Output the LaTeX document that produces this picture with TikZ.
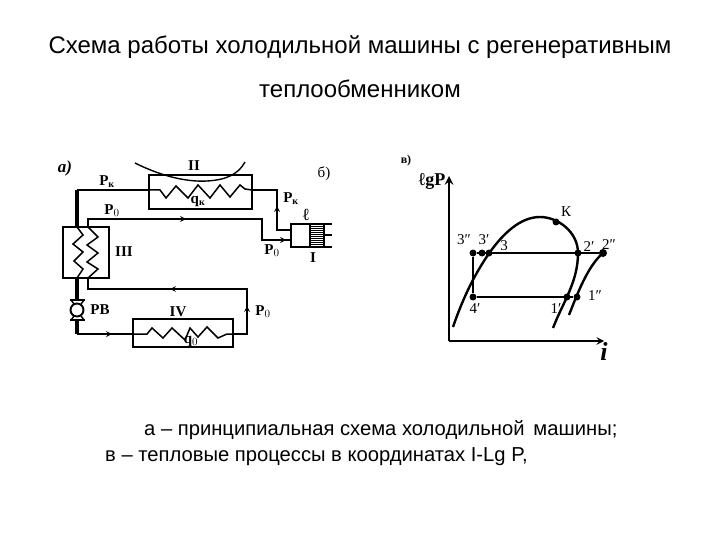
\documentclass[tikz,border=0pt]{standalone}
\usepackage{fontspec}
\setmainfont{Liberation Serif}
\newfontfamily\capfont{Liberation Sans}
\usepackage{tikz}
\newcommand{\subk}{$_{\mbox{\fontsize{10}{11}\selectfont к}}$}

\begin{document}
\begin{tikzpicture}[
    x=1pt, y=-1pt,
    box/.style={rectangle, draw, line width=1.9pt, inner sep=0pt},
    pipe/.style={line width=2.2pt, line join=miter},
    thickpipe/.style={line width=3.2pt, line join=miter},
    thinpipe/.style={line width=1.6pt},
    coil/.style={line width=1.5pt},
    curve/.style={line width=2.4pt},
    axis/.style={line width=2.8pt},
    dot/.style={circle, fill=black, inner sep=0pt, minimum size=7pt},
    captext/.style={font=\capfont\fontsize{24}{26}\selectfont, inner sep=0pt},
    notetext/.style={font=\capfont\fontsize{20.2}{24}\selectfont, inner sep=0pt, anchor=west},
    lab/.style={font=\fontsize{15}{16}\selectfont\bfseries, inner sep=0pt},
    ptlab/.style={font=\fontsize{15}{16}\selectfont, inner sep=0pt},
]
\useasboundingbox (0,0) rectangle (720,540);

% captions
\node[captext] (title1) at (360,47) {Схема работы холодильной машины с регенеративным};
\node[captext] (title2) at (360,89) {теплообменником};
\node[notetext] (note1) at (144,430) {а – принципиальная схема холодильной\, машины;};
\node[notetext] (note2) at (105,457) {в – тепловые процессы в координатах I-Lg P,};

% apparatus
\node[box, minimum width=103pt, minimum height=34pt] (cond) at (200.5,192) {};
\node[box, minimum width=46pt, minimum height=51pt] (regen) at (86,252.5) {};
\node[box, minimum width=100pt, minimum height=28pt] (evap) at (183,333) {};
\node[box, minimum width=19pt, minimum height=23pt] (comp) at (300.5,235.5) {};

% piston
\coordinate (ca) at (310,224);
\coordinate (cb) at (310,247);
\draw[thinpipe] (ca) -- (332,224);
\draw[thinpipe] (cb) -- (332,247);
\draw[thinpipe] (324,235) -- (332,235);
\draw[thinpipe] (324,224) -- (324,247);
\foreach \y in {226,228,...,246} {
  \draw[line width=0.9pt] (310,\y) -- (324,\y);
}

% condenser coil
\coordinate (c1) at (149,190);
\coordinate (c2) at (252,190);
\draw[coil] (c1) -- (160,190) -- (166,198) -- (176,186) -- (188,198) -- (198,185) -- (210,198) -- (220,185) -- (230,197) -- (240,185) -- (245,189) -- (c2);
\draw[line width=1.4pt] (135,163) .. controls (165,178) and (190,182) .. (207,181) .. controls (225,180) and (238,175) .. (245,162);

% evaporator coil
\coordinate (e1) at (133,334);
\coordinate (e2) at (233,334);
\draw[coil] (e1) -- (147,334) -- (152,328) -- (163,338) -- (172,328) -- (185,340) -- (190,328) -- (198,337) -- (207,327) -- (218,338) -- (227,334) -- (e2);

% regenerator coils
\coordinate (r1) at (77,227);
\coordinate (r2) at (88,227);
\coordinate (r3) at (77,278);
\coordinate (r4) at (88,278);
\draw[coil] (r1) -- (83,235) -- (73,244) -- (83,252) -- (74,261) -- (83,269) -- (r3);
\draw[coil] (r2) -- (98,237) -- (87,245) -- (98,253) -- (87,262) -- (98,269) -- (r4);

% pipes
\coordinate (p1) at (77,190);
\coordinate (p2) at (277,190);
\coordinate (p3) at (277,230);
\coordinate (p4) at (88,219);
\coordinate (p5) at (262,219);
\coordinate (p6) at (262,240);
\coordinate (p7) at (247,334);
\coordinate (p8) at (247,289);
\coordinate (p9) at (88,289);
\coordinate (p10) at (77,334);
\coordinate (v1) at (77,300);
\coordinate (v2) at (77,320);
\draw[thickpipe] (r1) -- (p1);
\draw[pipe] (p1) -- (c1);
\draw[pipe] (c2) -- (p2) -- (p3) -- (comp.west |- p3);
\draw[pipe] (r2) -- (p4) -- (p5) -- (p6) -- (comp.west |- p6);
\draw[pipe] (e2) -- (p7) -- (p8) -- (p9) -- (r4);
\draw[thickpipe] (r3) -- (v1);
\draw[thickpipe] (v2) -- (p10);
\draw[pipe] (p10) -- (e1);
\draw[thinpipe, ->, >=stealth] (277,218) -- (277,206);
\draw[thinpipe, ->, >=stealth] (172,219) -- (186,219);
\draw[thinpipe, ->, >=stealth] (272,240) -- (286,240);
\draw[thinpipe, ->, >=stealth] (247,317) -- (247,306);
\draw[thinpipe, ->, >=stealth] (186,289) -- (170,289);
\draw[thinpipe, ->, >=stealth] (98,334) -- (112,334);

% valve
\node[circle, draw, line width=1.9pt, minimum size=13pt, inner sep=0pt] (valve) at (77,310) {};
\draw[line width=1.9pt] (70,300) -- (85,300);
\draw[line width=1.9pt] (70,320) -- (85,320);
\draw[line width=1.4pt] (71,300) -- (74,304);
\draw[line width=1.4pt] (84,300) -- (81,304);
\draw[line width=1.4pt] (71,320) -- (74,316);
\draw[line width=1.4pt] (84,320) -- (81,316);

% labels of scheme
\node[lab, font=\fontsize{17}{18}\selectfont\bfseries\itshape] (la) at (65,168) {а)};
\node[lab] at (194,166) {II};
\node[ptlab] (lb) at (324,174) {б)};
\node[lab] at (107,182) {Р\subk};
\node[lab] at (112,211) {Р$_0$};
\node[lab] at (198,201) {q\subk};
\node[lab] at (291,199) {Р\subk};
\node[lab, font=\fontsize{17}{18}\selectfont\bfseries] at (306,215) {ℓ};
\node[lab] at (272,251) {Р$_0$};
\node[lab] at (313,258) {I};
\node[lab] at (124,252) {III};
\node[lab] at (100,310) {РВ};
\node[lab] at (178,312) {IV};
\node[lab] at (191,341) {q$_0$};
\node[lab] at (263,312) {Р$_0$};

% diagram
\coordinate (o) at (449,341);
\coordinate (yy) at (449,176);
\coordinate (xx) at (604,341);
\draw[axis, ->, >=stealth] (o) -- (yy);
\draw[line width=2.2pt, ->, >=stealth] (o) -- (xx);
\draw[curve] (453,327) .. controls (464,295) and (476,272) .. (490,252) .. controls (503,234) and (520,217) .. (540,217) .. controls (558,217) and (578,232) .. (578,253) .. controls (578,282) and (563,302) .. (553,328);
\draw[curve] (603,253) .. controls (588,266) and (578,292) .. (569,315);
\node[dot] (n3a) at (473,253) {};
\node[dot] (n3b) at (482,253) {};
\node[dot] (n3) at (489,253) {};
\node[dot] (n2a) at (578,253) {};
\node[dot, minimum size=8pt] (n2b) at (603,253) {};
\node[dot] (n4) at (473,297) {};
\node[dot] (n1a) at (567,297) {};
\node[dot] (n1b) at (577,297) {};
\node[dot] (nk) at (556,222) {};
\draw[line width=1.6pt] (n3a) -- (n2b);
\draw[line width=1.6pt] (n4) -- (n1b);
\draw[line width=1.8pt] (n3a) -- (n4);

\node[lab, font=\fontsize{12}{13}\selectfont\bfseries] at (406,161) {в)};
\node[lab, font=\fontsize{18}{19}\selectfont\bfseries] at (432,181) {ℓgР};
\node[ptlab] at (566,212) {К};
\node[ptlab] at (464,240) {3″};
\node[ptlab] at (484,240) {3′};
\node[ptlab] at (504,246) {3};
\node[ptlab] at (589,247) {2′};
\node[ptlab] at (609,245) {2″};
\node[ptlab] at (595,296) {1″};
\node[ptlab] at (556,309) {1′};
\node[ptlab] at (475,309) {4′};
\node[lab, font=\fontsize{26}{27}\selectfont\bfseries\itshape] at (604,351) {i};
\end{tikzpicture}
\end{document}
